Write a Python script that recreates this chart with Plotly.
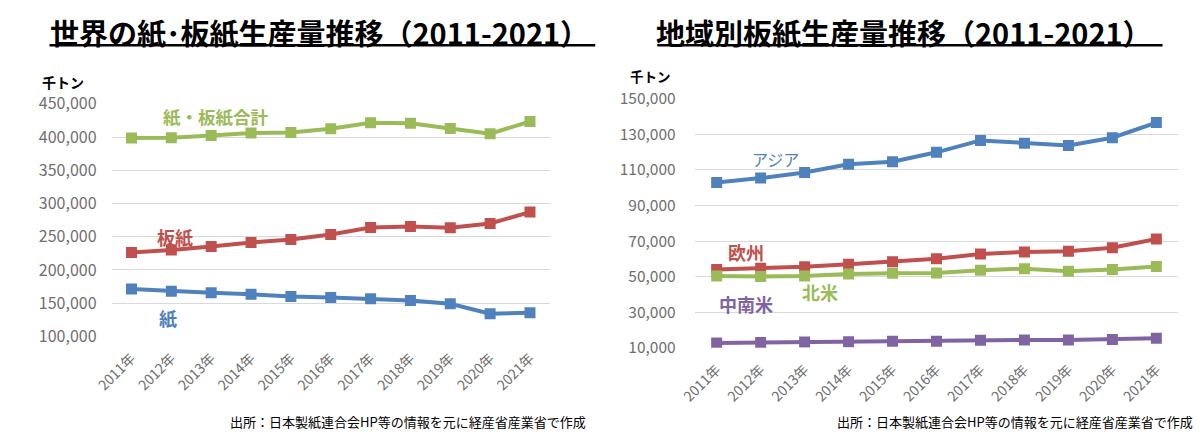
import plotly.graph_objects as go

# 年
years = ["2011年", "2012年", "2013年", "2014年", "2015年", "2016年",
         "2017年", "2018年", "2019年", "2020年", "2021年"]

# 世界の紙・板紙生産量（千トン）
total = [398600, 399000, 402400, 406000, 406700, 412400, 421400, 420600, 412900, 404900, 423400]
board = [226300, 230000, 235300, 241400, 245700, 253400, 263900, 265300, 263400, 270000, 287100]
paper = [171400, 168100, 165700, 163400, 160000, 158600, 156700, 153900, 149100, 134300, 135700]

# 地域別板紙生産量（千トン）
asia = [102900, 105400, 108600, 113200, 114600, 119900, 126600, 125000, 123800, 128100, 136600]
europe = [54000, 54700, 55600, 57000, 58400, 60000, 62700, 63900, 64300, 66200, 71200]
namerica = [50400, 50100, 50400, 51500, 51900, 52000, 53600, 54500, 53100, 54000, 55700]
latam = [12700, 13000, 13200, 13400, 13700, 13700, 14300, 14400, 14400, 14600, 15300]

BLUE = "#4F81BD"
RED = "#C0504D"
GREEN = "#9BBB59"
PURPLE = "#8064A2"
GRAY = "#6f6f6f"
FONT = "Noto Sans CJK JP"
W, H = 1200, 442


def px(x, y):
    return x / W, 1 - y / H


def line(y, color, xa, ya):
    return go.Scatter(x=years, y=y, xaxis=xa, yaxis=ya, mode="lines+markers",
                      line=dict(color=color, width=4),
                      marker=dict(symbol="square", size=11, color=color),
                      showlegend=False)


fig = go.Figure([
    line(total, GREEN, "x", "y"),
    line(board, RED, "x", "y"),
    line(paper, BLUE, "x", "y"),
    line(asia, BLUE, "x2", "y2"),
    line(europe, RED, "x2", "y2"),
    line(namerica, GREEN, "x2", "y2"),
    line(latam, PURPLE, "x2", "y2"),
])

xcommon = dict(type="category", range=[-0.5, 10.5], showgrid=False, showline=False,
               tickangle=-45, tickfont=dict(size=14, color=GRAY, family=FONT),
               ticks="", ticklabelstandoff=10)
ycommon = dict(showgrid=True, gridcolor="#d9d9d9", gridwidth=1.3, zeroline=False,
               showline=False, tickformat=",d", ticks="")

fig.update_layout(
    width=W, height=H, margin=dict(l=0, r=0, t=0, b=0),
    paper_bgcolor="white", plot_bgcolor="white",
    font=dict(family=FONT),
    xaxis=dict(domain=[95 / W, 540 / W], anchor="y", **xcommon),
    yaxis=dict(domain=[1 - 342 / H, 1 - 96 / H], range=[100000, 450000], dtick=50000,
               anchor="x", ticklabelstandoff=14,
               tickfont=dict(size=16, color=GRAY, family=FONT), **ycommon),
    xaxis2=dict(domain=[687 / W, 1178 / W], anchor="y2", **xcommon),
    yaxis2=dict(domain=[1 - 354 / H, 1 - 90.7 / H], range=[10000, 150000],
                tick0=10000, dtick=20000, anchor="x2", ticklabelstandoff=18,
                tickfont=dict(size=15.5, color=GRAY, family=FONT), **ycommon),
)


def note(text, x, y, size, color, bold=True, xanchor="left"):
    ax, ay = px(x, y)
    fig.add_annotation(text=f"<b>{text}</b>" if bold else text, x=ax, y=ay,
                       xref="paper", yref="paper", xanchor=xanchor, yanchor="middle",
                       showarrow=False, borderpad=0,
                       font=dict(size=size, color=color, family=FONT))


# タイトル
note("世界の紙･板紙生産量推移（2011-2021）", 31, 20, 29, "#000000")
note("地域別板紙生産量推移（2011-2021）", 647, 20, 29, "#000000")
for x0, x1 in [(32, 586), (649, 1162)]:
    a0, yy = px(x0, 34)
    a1, _ = px(x1, 34)
    fig.add_shape(type="line", xref="paper", yref="paper", x0=a0, x1=a1, y0=yy, y1=yy,
                  line=dict(color="#000000", width=2.5))

# 単位
note("千トン", 23, 73, 14, "#000000")
note("千トン", 620, 67, 13.5, "#000000")

# 系列ラベル
note("紙・板紙合計", 146, 109, 17.5, GREEN)
note("板紙", 140, 237, 18, RED)
note("紙", 142, 323, 18, BLUE)
note("アジア", 744, 154, 16, BLUE, bold=False)
note("欧州", 720, 253, 18, RED)
note("北米", 795, 295, 18, GREEN)
note("中南米", 711, 308, 18, PURPLE)

# 出所
note("出所：日本製紙連合会HP等の情報を元に経産省産業省で作成", 578, 432, 13, "#000000", bold=False, xanchor="right")
note("出所：日本製紙連合会HP等の情報を元に経産省産業省で作成", 1194, 432, 13, "#000000", bold=False, xanchor="right")

fig.write_html("out.html", config={"displayModeBar": False},
               post_script="document.body.style.margin='0';document.body.style.overflow='hidden';")
